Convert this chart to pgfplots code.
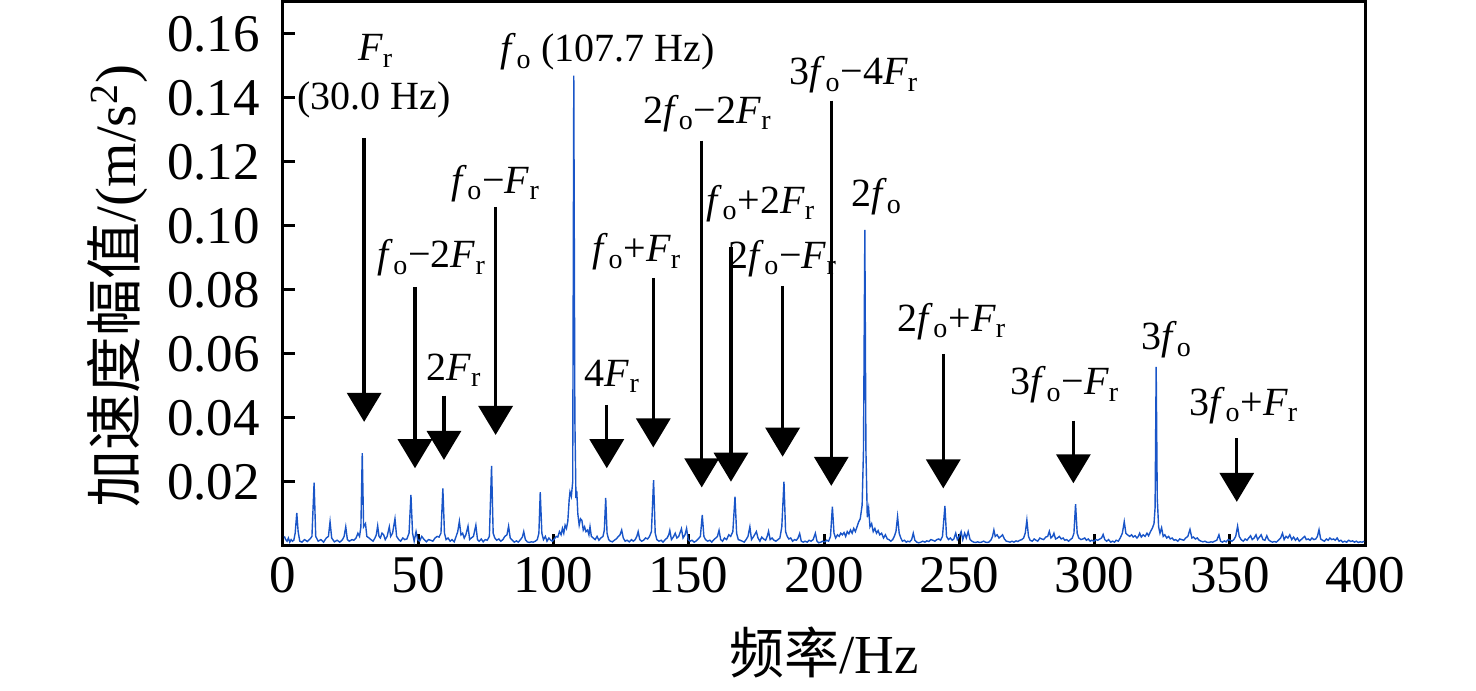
\documentclass[border=0pt]{standalone}
\usepackage{pgfplots}
\pgfplotsset{compat=1.18}
\usepackage{fontspec}
\setmainfont{Liberation Serif}
\newfontfamily\cjk{Noto Sans CJK SC}
\usetikzlibrary{arrows.meta}
\definecolor{spec}{RGB}{25,85,200}
\newcommand{\fo}{\textit{f}\textsubscript{o}}
\newcommand{\Fr}{\textit{F}\textsubscript{r}}
\pgfplotstableread{
f a
0.5 0.003
1 0.002
1.5 0.0015
2 0.0025
2.5 0.0012
3 0.002
3.5 0.0015
4 0.0018
4.5 0.004
5.1 0.0103
5.6 0.0045
6.2 0.0015
7 0.0012
8 0.002
9 0.0014
10 0.0022
10.7 0.003
11.5 0.0198
12.1 0.003
13 0.0015
14 0.002
15 0.0012
16 0.0025
16.8 0.003
17.4 0.0076
18 0.0025
19 0.0013
20 0.0018
21 0.0012
22 0.002
22.6 0.003
23.2 0.006
23.8 0.002
24.5 0.0015
25.5 0.002
26.2 0.0018
27 0.0025
27.7 0.004
28.3 0.003
28.8 0.006
29.3 0.029
29.8 0.006
30.5 0.007
31 0.003
31.8 0.0025
32.5 0.002
33.3 0.0015
34 0.0025
34.5 0.0035
35 0.0063
35.5 0.003
36 0.0025
36.6 0.004
37.2 0.0035
37.8 0.002
38.5 0.003
39.3 0.006
39.8 0.003
40.5 0.004
41.4 0.0085
42 0.003
42.8 0.002
43.5 0.0015
44.3 0.0025
45 0.002
45.8 0.0022
46.6 0.004
47.3 0.016
47.9 0.004
48.5 0.0015
49.2 0.0045
49.8 0.002
50.5 0.0015
51.3 0.003
52 0.0022
53 0.0013
53.8 0.002
54.6 0.0018
55.4 0.0015
56.2 0.0025
57 0.003
57.7 0.0028
58.4 0.004
59.1 0.018
59.7 0.004
60.3 0.002
61 0.0025
61.8 0.0015
62.5 0.002
63.3 0.0013
64 0.003
64.6 0.0045
65.2 0.0077
65.8 0.0035
66.4 0.004
67 0.0025
67.6 0.0035
68.4 0.0062
69 0.002
69.6 0.0025
70.4 0.003
71.3 0.0065
71.9 0.002
72.5 0.0015
73.3 0.0022
74 0.0013
74.8 0.002
75.5 0.0018
76.3 0.003
77.1 0.025
77.7 0.004
78.3 0.0025
79 0.0018
79.8 0.0022
80.5 0.0015
81.3 0.002
82 0.003
82.8 0.0035
83.4 0.0062
84 0.0025
84.8 0.0018
85.5 0.0012
86.3 0.0016
87 0.0012
87.8 0.002
88.5 0.0028
89 0.0045
89.6 0.002
90.3 0.0013
91 0.0011
91.8 0.0013
92.5 0.0012
93.3 0.0015
94 0.002
94.6 0.004
95.1 0.0168
95.7 0.004
96.3 0.002
97 0.003
97.6 0.0015
98.3 0.0025
99 0.0018
99.6 0.0015
100.3 0.0022
101 0.003
101.6 0.0028
102.2 0.0045
102.8 0.0035
103.3 0.0055
103.8 0.004
104.3 0.0065
104.8 0.0055
105.3 0.0078
105.8 0.0145
106.1 0.0169
106.6 0.0155
107.1 0.02
107.5 0.147
107.9 0.04
108.3 0.015
108.6 0.0172
109 0.01
109.5 0.0065
110 0.0085
110.5 0.008
111 0.005
111.5 0.006
112 0.0045
112.6 0.005
113.1 0.0035
113.5 0.006
114 0.003
114.7 0.0025
115.4 0.002
116.1 0.003
116.8 0.0018
117.5 0.0025
118.3 0.003
118.8 0.005
119.3 0.015
119.8 0.004
120.4 0.002
121 0.0015
121.8 0.0013
122.5 0.0018
123.2 0.0022
124 0.003
124.6 0.0035
125.2 0.005
125.8 0.0025
126.5 0.0015
127.2 0.0018
128 0.0013
128.8 0.002
129.5 0.0015
130.2 0.002
130.8 0.003
131.3 0.0045
131.9 0.002
132.6 0.0015
133.3 0.0018
134 0.0025
134.8 0.0022
135.5 0.003
136.2 0.0045
137 0.0206
137.6 0.004
138.2 0.002
139 0.0015
139.8 0.0018
140.5 0.0012
141.3 0.002
142 0.0025
142.6 0.0035
143 0.0049
143.6 0.002
144.3 0.0028
145 0.004
145.6 0.0025
146.3 0.003
147.3 0.0054
147.9 0.0025
148.6 0.0035
149.2 0.0055
149.8 0.002
150.5 0.0015
151.2 0.0018
152 0.0012
152.8 0.0016
153.5 0.0022
154.3 0.003
155 0.0097
155.6 0.003
156.2 0.002
157 0.0015
157.8 0.0018
158.5 0.0012
159.3 0.002
160 0.0025
160.6 0.003
161.2 0.0049
161.8 0.002
162.5 0.0015
163.2 0.0025
164 0.002
164.8 0.0035
165.5 0.003
166.3 0.0045
167.1 0.0154
167.7 0.004
168.3 0.002
169 0.0018
169.8 0.0015
170.5 0.0012
171.2 0.002
171.9 0.003
172.6 0.006
173.2 0.002
174 0.003
175 0.0045
175.6 0.0025
176.3 0.0015
177 0.0028
177.7 0.0022
178.4 0.0018
179 0.003
179.5 0.0046
180.1 0.002
180.8 0.0025
181.5 0.0018
182.2 0.0015
183 0.002
183.7 0.0025
184.4 0.006
185.2 0.0201
185.8 0.0045
186.4 0.003
187 0.0022
187.7 0.0025
188.4 0.0015
189.1 0.002
189.8 0.0018
190.4 0.0025
191 0.0039
191.6 0.0015
192.3 0.0012
193 0.0015
193.8 0.0012
194.5 0.0018
195.2 0.0015
196 0.002
196.8 0.004
197.4 0.0015
198 0.001
198.8 0.0012
199.5 0.0015
200.3 0.0013
201 0.0018
201.7 0.0015
202.4 0.003
203.1 0.0123
203.7 0.004
204.3 0.0025
205 0.0035
205.6 0.003
206.2 0.004
206.8 0.0035
207.4 0.0042
208 0.003
208.6 0.0045
209.2 0.0038
209.8 0.005
210.4 0.004
211 0.0055
211.6 0.0045
212.2 0.006
212.8 0.0075
213.4 0.0085
214.1 0.0128
214.6 0.03
215.1 0.0988
215.5 0.03
216 0.009
216.5 0.0118
217 0.006
217.6 0.007
218.2 0.0045
218.8 0.0055
219.4 0.004
220 0.0048
220.6 0.0035
221.3 0.004
222 0.0025
222.7 0.0035
223.4 0.0022
224 0.002
224.7 0.0015
225.4 0.002
226 0.003
226.6 0.0045
227.2 0.0092
227.8 0.004
228.4 0.0025
229 0.0015
229.7 0.0018
230.4 0.0012
231 0.0015
231.7 0.0013
232.4 0.002
233 0.004
233.6 0.0018
234.3 0.0012
235 0.001
235.8 0.0012
236.5 0.0015
237.3 0.0012
238 0.0016
238.8 0.0014
239.5 0.002
240.2 0.0018
241 0.0015
241.7 0.002
242.4 0.0022
243.1 0.0018
243.8 0.003
244.7 0.0125
245.3 0.003
246 0.002
246.7 0.0025
247.4 0.0018
248 0.0022
248.7 0.004
249.3 0.002
250 0.003
250.7 0.0045
251.3 0.002
252 0.004
252.6 0.0025
253.3 0.0045
254 0.002
254.7 0.0015
255.4 0.0012
256.1 0.0011
256.8 0.0013
257.5 0.0011
258.2 0.0012
259 0.0015
259.7 0.0012
260.4 0.0011
261.1 0.0013
261.8 0.002
262.3 0.003
262.8 0.005
263.3 0.003
264 0.0035
264.7 0.0025
265.4 0.003
266 0.0035
266.7 0.0022
267.4 0.0015
268 0.0014
268.8 0.0012
269.5 0.0015
270.2 0.0012
271 0.0016
271.7 0.0014
272.4 0.0018
273.1 0.002
273.8 0.0025
274.4 0.004
275 0.0081
275.6 0.003
276.2 0.0018
277 0.0015
277.7 0.0022
278.4 0.0018
279 0.0015
279.8 0.0025
280.5 0.0022
281.2 0.002
282 0.0028
282.7 0.003
283.3 0.0046
283.9 0.0025
284.5 0.003
285 0.004
285.6 0.0022
286.3 0.0025
287 0.003
287.7 0.0022
288.4 0.0025
289 0.0018
289.7 0.002
290.4 0.0015
291.1 0.002
291.8 0.0025
292.4 0.004
293 0.0131
293.6 0.004
294.2 0.0025
295 0.002
295.7 0.0022
296.4 0.0025
297 0.0018
297.7 0.0022
298.4 0.0015
299 0.0018
299.8 0.0015
300.5 0.002
301.2 0.0018
302 0.0022
302.6 0.0025
303.2 0.0036
303.8 0.002
304.5 0.0015
305.2 0.002
306 0.0012
306.7 0.0015
307.4 0.0012
308 0.0018
308.8 0.0015
309.5 0.0025
310.3 0.004
311 0.0076
311.6 0.004
312.2 0.0035
313 0.003
313.7 0.0035
314.3 0.0028
315 0.0032
315.7 0.0025
316.2 0.003
316.7 0.004
317.3 0.0028
318 0.0035
318.7 0.003
319.4 0.004
320 0.0032
320.7 0.0045
321.4 0.0056
322 0.007
322.4 0.012
322.8 0.056
323.2 0.015
323.7 0.006
324.2 0.004
324.8 0.0057
325.4 0.003
326 0.0035
326.7 0.0025
327.4 0.003
328 0.0022
328.7 0.0025
329.4 0.0018
330 0.002
330.8 0.0015
331.5 0.0022
332.2 0.002
333 0.0018
333.7 0.0025
334.5 0.003
335.3 0.0052
336 0.0025
336.6 0.0028
337.3 0.0022
338 0.0025
338.7 0.0018
339.4 0.0015
340.1 0.0013
340.8 0.0015
341.5 0.0012
342.3 0.0011
343 0.0013
343.7 0.0012
344.4 0.0015
345.2 0.0018
346 0.0035
346.6 0.0015
347.3 0.0012
348 0.0016
348.7 0.0013
349.4 0.002
350.1 0.0018
350.8 0.0015
351.5 0.002
352.2 0.003
352.9 0.0062
353.5 0.003
354.2 0.002
355 0.0015
355.7 0.0022
356.4 0.0018
357 0.0025
357.7 0.0032
358.3 0.002
359 0.0025
359.7 0.0035
360.3 0.002
361 0.0028
361.6 0.0035
362.3 0.002
363 0.0018
363.7 0.0032
364.3 0.002
365 0.0015
365.8 0.0012
366.5 0.0014
367.2 0.0012
368 0.0018
368.8 0.0025
369.5 0.004
370.1 0.002
370.8 0.003
371.5 0.0025
372.2 0.0035
372.9 0.002
373.6 0.0028
374.3 0.0018
375 0.0025
375.7 0.0015
376.4 0.002
377 0.0025
377.7 0.003
378.3 0.002
379 0.0022
379.7 0.0018
380.4 0.0025
381.1 0.002
381.8 0.0022
382.4 0.003
383 0.0051
383.6 0.0022
384.3 0.0018
385 0.0015
385.7 0.0022
386.4 0.0018
387 0.0025
387.7 0.002
388.4 0.0022
389 0.0018
389.7 0.0025
390.4 0.0015
391.1 0.0018
391.8 0.0012
392.5 0.0015
393.2 0.0012
394 0.0018
394.7 0.0014
395.4 0.0016
396.1 0.0012
396.8 0.0015
397.5 0.0011
398.2 0.0013
399 0.0012
399.7 0.0015
}\spectrum
\begin{document}
\begin{tikzpicture}[arr/.style={line width=1.65pt,-{Triangle[length=14.5pt,width=17pt]}},
  lab/.style={anchor=base,font=\fontsize{20}{24}\selectfont,inner sep=0pt}]
\begin{axis}[
  scale only axis,
  width=541pt, height=272pt,
  xmin=0, xmax=400, ymin=0, ymax=0.17,
  xtick={0,50,...,400},
  ytick={0.02,0.04,0.06,0.08,0.10,0.12,0.14,0.16},
  scaled y ticks=false,
  yticklabel style={/pgf/number format/.cd,fixed,fixed zerofill,precision=2},
  /pgf/number format/assume math mode=true,
  tick label style={font=\fontsize{26.5}{30}\selectfont},
  xlabel style={font=\fontsize{27.5}{31}\selectfont},
  ylabel style={font=\fontsize{28.5}{32}\selectfont, at={(ticklabel cs:0.478,3pt)}},
  yticklabel shift=8pt,
  xticklabel shift=2pt,
  xlabel shift=10pt,
  xlabel={{\cjk 频率}/Hz},
  ylabel={{\cjk 加速度幅值}/(m/s\textsuperscript{2})},
  axis line style={line width=1.5pt},
  every tick/.style={line width=1.5pt,black},
  major tick length=6pt,
  xtick pos=bottom, ytick pos=left,
  tick align=inside,
  clip=false,
]
\addplot[color=spec, line width=0.7pt] table[x=f,y=a] {\spectrum};
% bounding box
\path (rel axis cs:-0.26155,-0.26471) rectangle (rel axis cs:1.10259,1.00368);
% arrows
\draw[arr] (30,0.1275) -- (30,0.0388);
\draw[arr] (48.8,0.0810) -- (48.8,0.0243);
\draw[arr] (59.5,0.0470) -- (59.5,0.0269);
\draw[arr] (78.6,0.1060) -- (78.6,0.0347);
\draw[arr] (119.7,0.0441) -- (119.7,0.0243);
\draw[arr] (136.9,0.0838) -- (136.9,0.0308);
\draw[arr] (154.8,0.1267) -- (154.8,0.0183);
\draw[arr] (165.6,0.0935) -- (165.6,0.0201);
\draw[arr] (184.7,0.0813) -- (184.7,0.0279);
\draw[arr] (202.7,0.1392) -- (202.7,0.0188);
\draw[arr] (244.1,0.0600) -- (244.1,0.0180);
\draw[arr] (292.2,0.0392) -- (292.2,0.0196);
\draw[arr] (352.6,0.0337) -- (352.6,0.0138);
% labels
\node[lab] at (34.3,0.1516) {\Fr};
\node[lab] at (33.6,0.1363) {(30.0 Hz)};
\node[lab] at (120.1,0.1513) {\fo{} (107.7 Hz)};
\node[lab] at (55.0,0.0869) {\fo−2\Fr};
\node[lab] at (63.2,0.0517) {2\Fr};
\node[lab] at (78.7,0.1103) {\fo−\Fr};
\node[lab] at (130.9,0.0888) {\fo+\Fr};
\node[lab] at (121.8,0.0498) {4\Fr};
\node[lab] at (156.9,0.1321) {2\fo−2\Fr};
\node[lab] at (211.1,0.1441) {3\fo−4\Fr};
\node[lab] at (176.7,0.1040) {\fo+2\Fr};
\node[lab] at (184.8,0.0868) {2\fo−\Fr};
\node[lab] at (219.4,0.1060) {2\fo};
\node[lab] at (247.3,0.0670) {2\fo+\Fr};
\node[lab] at (289.1,0.0472) {3\fo−\Fr};
\node[lab] at (326.6,0.0613) {3\fo};
\node[lab] at (355.3,0.0409) {3\fo+\Fr};
\end{axis}
\end{tikzpicture}
\end{document}
